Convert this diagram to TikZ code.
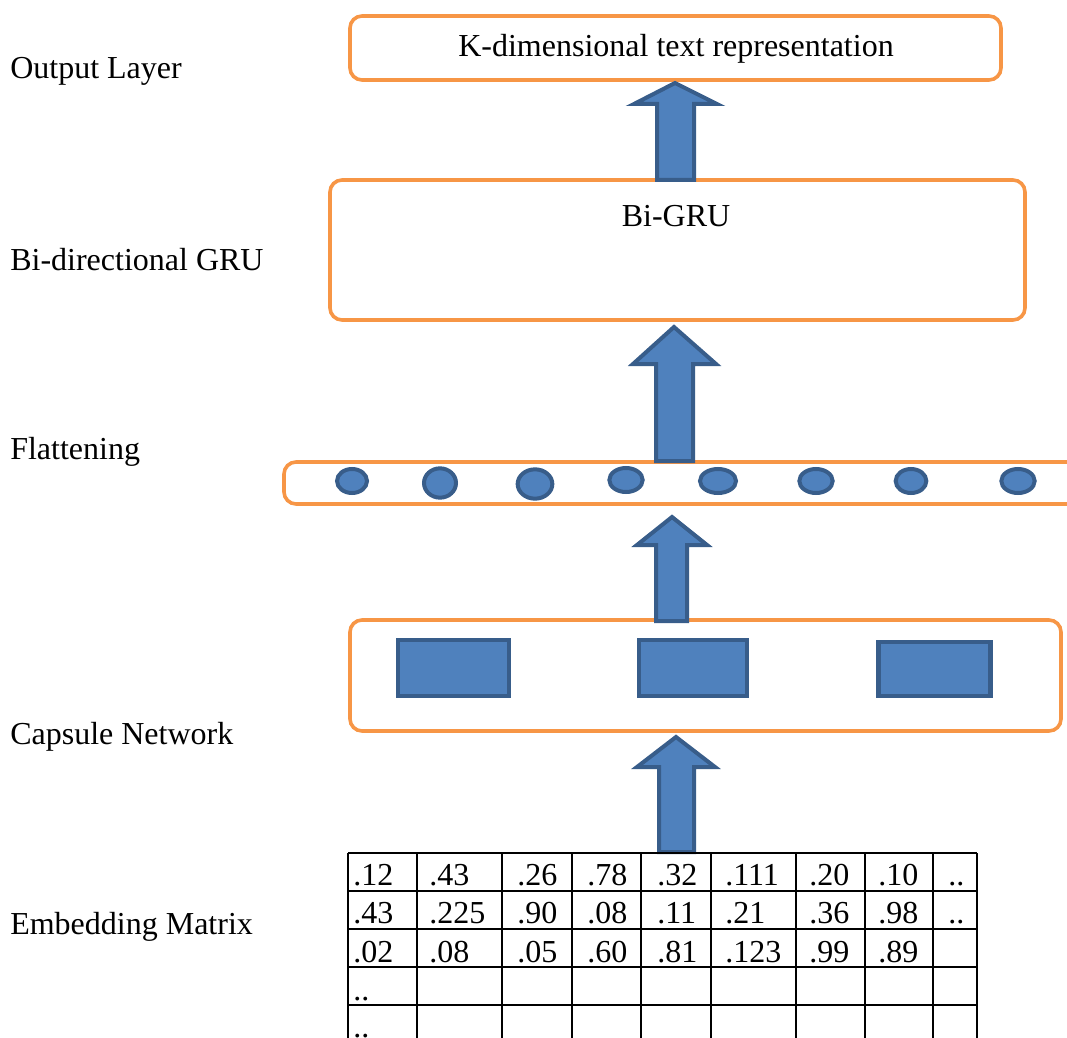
\documentclass[tikz,border=0pt]{standalone}
\usepackage{fontspec}
\setmainfont{Liberation Serif}
\usetikzlibrary{shapes.geometric}
\definecolor{orng}{HTML}{F79646}
\definecolor{bfill}{HTML}{4F81BD}
\definecolor{bline}{HTML}{385D8A}
\begin{document}
\begin{tikzpicture}[x=0.75pt,y=-0.75pt,
  txt/.style={font=\fontsize{24}{28}\selectfont, inner sep=0pt},
  lbl/.style={txt, anchor=base west},
  obox/.style={draw=orng, line width=2.7pt, rounded corners=9pt, fill=white, inner sep=0pt},
  blk/.style={draw=bline, fill=bfill, line width=3pt, line join=miter},
  dot/.style={ellipse, draw=bline, fill=bfill, line width=3pt, inner sep=0pt},
  caps/.style={rectangle, draw=bline, fill=bfill, line width=3.2pt, inner sep=0pt},
  grid/.style={line width=1.5pt, black}]
\useasboundingbox (0,0) rectangle (1067,1038);
\clip (0,0) rectangle (1067,1038);

% left labels
\node[lbl] (l1) at (10,79) {Output Layer};
\node[lbl] (l2) at (10,270) {Bi-directional GRU};
\node[lbl] (l3) at (10,459) {Flattening};
\node[lbl] (l4) at (10,744) {Capsule Network};
\node[lbl] (l5) at (10,934) {Embedding Matrix};

% boxes
\node[obox, minimum width=488.25pt, minimum height=48pt] (out) at (675.5,48) {};
\node[txt, anchor=base] (outt) at (676,57) {K-dimensional text representation};
\node[obox, minimum width=521.25pt, minimum height=105pt] (gru) at (677.5,250) {};
\node[txt, anchor=base] (grut) at (676,226) {Bi-GRU};
\node[obox, minimum width=612pt, minimum height=31.5pt] (flat) at (692,483) {};
\node[obox, minimum width=533.25pt, minimum height=83.25pt] (caps) at (705.5,675.5) {};

% flattened units
\node[dot, minimum width=22.5pt, minimum height=18pt] (e1) at (352,481) {};
\node[dot, minimum width=24pt, minimum height=22pt] (e2) at (440,483) {};
\node[dot, minimum width=26pt, minimum height=22pt] (e3) at (535,484) {};
\node[dot, minimum width=25pt, minimum height=18pt] (e4) at (626,480) {};
\node[dot, minimum width=27pt, minimum height=18pt] (e5) at (718,481) {};
\node[dot, minimum width=25pt, minimum height=18pt] (e6) at (816,481) {};
\node[dot, minimum width=23pt, minimum height=18pt] (e7) at (911,481) {};
\node[dot, minimum width=25pt, minimum height=18pt] (e8) at (1018,481) {};

% capsules
\node[caps, minimum width=83pt, minimum height=41.5pt] (c1) at (453.5,668) {};
\node[caps, minimum width=81pt, minimum height=41.5pt] (c2) at (693,668) {};
\node[caps, minimum width=84pt, minimum height=40pt] (c3) at (934.5,669) {};

% block arrows
\draw[blk] (675,83) -- (717,104) -- (694,104) -- (694,180) -- (657,180) -- (657,104) -- (634,104) -- cycle;
\draw[blk] (674,327) -- (716,364) -- (693,364) -- (693,461) -- (656,461) -- (656,364) -- (633,364) -- cycle;
\draw[blk] (672,517) -- (707,545) -- (687,545) -- (687,621) -- (656,621) -- (656,545) -- (637,545) -- cycle;
\draw[blk] (676,737) -- (715,767) -- (694,767) -- (694,852) -- (659,852) -- (659,767) -- (637,767) -- cycle;

% embedding matrix
\foreach \yy in {853,891,929,967,1005,1043} \draw[grid] (348,\yy) -- (977,\yy);
\foreach \xx in {348,417,502,572,641,711,796,865,933,977} \draw[grid] (\xx,853) -- (\xx,1043);

\foreach \t [count=\i] in {.12,.43,.26,.78,.32,.111,.20,.10,..} {
  \pgfmathsetmacro{\cx}{{353,429,517,587,657,725,809,878,948}[\i-1]}
  \node[lbl] (r1c\i) at (\cx,885) {\t};
}
\foreach \t [count=\i] in {.43,.225,.90,.08,.11,.21,.36,.98,..} {
  \pgfmathsetmacro{\cx}{{353,429,517,587,657,725,809,878,948}[\i-1]}
  \node[lbl] (r2c\i) at (\cx,923) {\t};
}
\foreach \t [count=\i] in {.02,.08,.05,.60,.81,.123,.99,.89} {
  \pgfmathsetmacro{\cx}{{353,429,517,587,657,725,809,878,948}[\i-1]}
  \node[lbl] (r3c\i) at (\cx,962) {\t};
}
\node[lbl] (r4c1) at (353,1000) {..};
\node[lbl] (r5c1) at (353,1037) {..};
\end{tikzpicture}
\end{document}
